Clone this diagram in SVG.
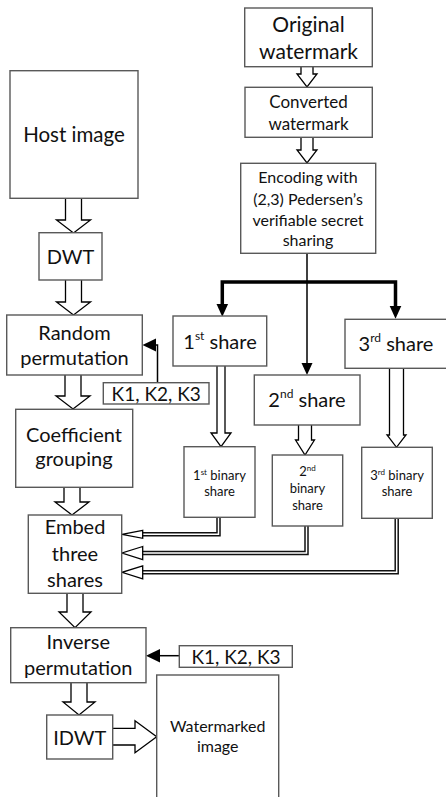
<svg xmlns="http://www.w3.org/2000/svg" width="446" height="797" viewBox="0 0 446 797">
<style>
.box{fill:#fff;stroke:#595959;stroke-width:1.4}
.t{font-family:Lato,"Open Sans",sans-serif;fill:#111;text-anchor:middle}
.ha{fill:#fff;stroke:#000;stroke-width:1.3;stroke-linejoin:miter}
.thick{fill:none;stroke:#000;stroke-width:3.5}
.thin{fill:none;stroke:#000;stroke-width:1.5}
.dbo{fill:none;stroke:#111;stroke-width:4.5}
.dbi{fill:none;stroke:#fff;stroke-width:1.5}
.fh{fill:#000}
</style>
<rect width="446" height="797" fill="#fff"/>
<g id="connectors">
  <path class="ha" d="M301,66.7 V74 H297 L307,87 L317,74 H313 V66.7"/>
  <path class="ha" d="M301,137.3 V150 H297 L307,163 L317,150 H313 V137.3"/>
  <path class="ha" d="M65.5,198.3 V220 H56.5 L73.5,233 L90.5,220 H81.5 V198.3"/>
  <path class="ha" d="M65.5,280 V302 H56.5 L73.5,315 L90.5,302 H81.5 V280"/>
  <path class="ha" d="M65,375 V396 H56 L73,409 L90,396 H81 V375"/>
  <path class="ha" d="M64,487.3 V502 H55 L72,515 L89,502 H80 V487.3"/>
  <path class="ha" d="M67,593.3 V612 H59 L75,627.7 L91,612 H83 V593.3"/>
  <path class="ha" d="M71,682.7 V702 H63 L79,715 L95,702 H87 V682.7"/>
  <path class="ha" d="M112.7,728.4 H135 V720.7 L156.7,736.7 L135,752.7 V745 H112.7"/>
  <path class="ha" d="M217,366 V433 H211 L221,446.7 L231,433 H225 V366"/>
  <path class="ha" d="M298.5,425 V440 H295.5 L305,455 L314.5,440 H311.5 V425"/>
  <path class="ha" d="M389.5,368.3 V435 H387 L396.5,447.3 L406,435 H403.5 V368.3"/>
  <path class="thin" d="M307,253.3 V363"/>
  <path class="fh" d="M301.5,363 L307,375 L312.5,363 Z"/>
  <path class="thick" d="M222.3,282 H395.5 M222.3,280.3 V304 M395.5,280.3 V306"/>
  <path class="fh" d="M216.5,304 L222.3,316.7 L228.1,304 Z"/>
  <path class="fh" d="M389.7,306 L395.5,318.7 L401.3,306 Z"/>
  <path class="thin" d="M157.5,382.7 V345 H155"/>
  <path class="fh" d="M156,338.5 L142.5,345 L156,351.5 Z"/>
  <path class="thin" d="M179.3,655.7 H159"/>
  <path class="fh" d="M160,649 L146,655.7 L160,662.4 Z"/>
  <path class="dbo" d="M218.5,517.3 V534.3 H142"/>
  <path class="dbi" d="M218.5,517.3 V534.3 H142"/>
  <path class="ha" d="M142.7,530.3 L122,534.3 L142.7,538.3 Z"/>
  <path class="dbo" d="M306.5,526 V553 H142"/>
  <path class="dbi" d="M306.5,526 V553 H142"/>
  <path class="ha" d="M142.7,546.5 L122,553 L142.7,559.5 Z"/>
  <path class="dbo" d="M396.7,518.3 V572.3 H142"/>
  <path class="dbi" d="M396.7,518.3 V572.3 H142"/>
  <path class="ha" d="M142.7,565.8 L122,572.3 L142.7,578.8 Z"/>
</g>
<g id="original">
  <rect class="box" x="244.7" y="8" width="127.6" height="58.7"/>
  <text class="t" font-size="21" x="308.5" y="32">Original</text>
  <text class="t" font-size="21" x="308.5" y="59">watermark</text>
</g>
<g id="converted">
  <rect class="box" x="245" y="87.3" width="127.3" height="50"/>
  <text class="t" font-size="17" x="308.5" y="108">Converted</text>
  <text class="t" font-size="17" x="308.5" y="129.5">watermark</text>
</g>
<g id="encoding">
  <rect class="box" x="240.7" y="163.3" width="135" height="90"/>
  <text class="t" font-size="16" x="308" y="183">Encoding with</text>
  <text class="t" font-size="16" x="308" y="204.5">(2,3) Pedersen’s</text>
  <text class="t" font-size="16" x="308" y="225.5">verifiable secret</text>
  <text class="t" font-size="16" x="308" y="246">sharing</text>
</g>
<g id="host">
  <rect class="box" x="10" y="70.7" width="128" height="127.6"/>
  <text class="t" font-size="20.5" x="74" y="142">Host image</text>
</g>
<g id="dwt">
  <rect class="box" x="39" y="232.7" width="63" height="47.3"/>
  <text class="t" font-size="20" x="70.5" y="264">DWT</text>
</g>
<g id="random">
  <rect class="box" x="6.7" y="315" width="135.6" height="60"/>
  <text class="t" font-size="20" x="74.5" y="339.5">Random</text>
  <text class="t" font-size="20" x="74.5" y="365">permutation</text>
</g>
<g id="key1">
  <rect class="box" x="103.3" y="382.7" width="105.7" height="21.3"/>
  <text class="t" font-size="19" x="156.2" y="400.5">K1, K2, K3</text>
</g>
<g id="share1">
  <rect class="box" x="173" y="316" width="93.7" height="50"/>
  <text class="t" font-size="20" x="220" y="349">1<tspan font-size="12" dy="-9">st</tspan><tspan dy="9"> share</tspan></text>
</g>
<g id="share2">
  <rect class="box" x="254.3" y="375" width="105.7" height="50"/>
  <text class="t" font-size="20" x="307" y="407">2<tspan font-size="12" dy="-9">nd</tspan><tspan dy="9"> share</tspan></text>
</g>
<g id="share3">
  <rect class="box" x="345" y="319.3" width="103" height="49"/>
  <text class="t" font-size="20" x="396" y="350.5">3<tspan font-size="12" dy="-9">rd</tspan><tspan dy="9"> share</tspan></text>
</g>
<g id="coefficient">
  <rect class="box" x="15.7" y="409.3" width="117" height="78"/>
  <text class="t" font-size="20" x="74" y="441.5">Coefficient</text>
  <text class="t" font-size="20" x="74" y="465.5">grouping</text>
</g>
<g id="binary1">
  <rect class="box" x="184" y="446.7" width="71" height="70.6"/>
  <text class="t" font-size="13" x="219.5" y="480">1<tspan font-size="8" dy="-5">st</tspan><tspan dy="5"> binary</tspan></text>
  <text class="t" font-size="13" x="219.5" y="496">share</text>
</g>
<g id="binary2">
  <rect class="box" x="272.3" y="455" width="70.4" height="71"/>
  <text class="t" font-size="13" x="307.5" y="476">2<tspan font-size="8" dy="-5">nd</tspan></text>
  <text class="t" font-size="13" x="307.5" y="493">binary</text>
  <text class="t" font-size="13" x="307.5" y="510">share</text>
</g>
<g id="binary3">
  <rect class="box" x="361.7" y="447.3" width="70.6" height="71"/>
  <text class="t" font-size="13" x="397" y="480">3<tspan font-size="8" dy="-5">rd</tspan><tspan dy="5"> binary</tspan></text>
  <text class="t" font-size="13" x="397" y="496">share</text>
</g>
<g id="embed">
  <rect class="box" x="28.3" y="515" width="93.4" height="78.3"/>
  <text class="t" font-size="20" x="75" y="534">Embed</text>
  <text class="t" font-size="20" x="75" y="561">three</text>
  <text class="t" font-size="20" x="75" y="587">shares</text>
</g>
<g id="inverse">
  <rect class="box" x="10.7" y="627.7" width="135.3" height="55"/>
  <text class="t" font-size="20" x="78.3" y="649">Inverse</text>
  <text class="t" font-size="20" x="78.3" y="675">permutation</text>
</g>
<g id="key2">
  <rect class="box" x="179.3" y="645.7" width="113" height="21.6"/>
  <text class="t" font-size="19" x="236" y="663.5">K1, K2, K3</text>
</g>
<g id="idwt">
  <rect class="box" x="46.7" y="715" width="66" height="44"/>
  <text class="t" font-size="20" x="79.7" y="745">IDWT</text>
</g>
<g id="watermarked">
  <rect class="box" x="156.7" y="675" width="122" height="125"/>
  <text class="t" font-size="16" x="217.7" y="732">Watermarked</text>
  <text class="t" font-size="16" x="217.7" y="752">image</text>
</g>
</svg>
